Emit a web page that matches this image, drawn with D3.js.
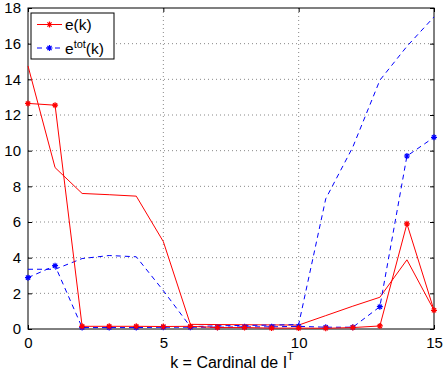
<!DOCTYPE html>
<html><head><meta charset="utf-8">
<script src="https://cdn.jsdelivr.net/npm/d3@7"></script>
<style>body{margin:0;background:#fff}svg{display:block}text{font-family:"Liberation Sans",Arial,sans-serif}</style>
</head><body>
<svg id="c" width="443" height="377"></svg>
<script>
const kValues = [0,1,2,3,4,5,6,7,8,9,10,11,12,13,14,15];
const eK      = [12.65,12.55,0.15,0.15,0.15,0.14,0.15,0.08,0.08,0.05,0.05,0.04,0.08,0.17,5.9,1.05];
const eK2     = [14.75,9.05,7.6,7.53,7.45,4.9,0.26,0.25,0.24,0.23,0.22,0.75,1.28,1.78,3.88,1.05];
const eTot    = [2.88,3.55,0.08,0.08,0.08,0.1,0.1,0.1,0.12,0.12,0.15,0.1,0.1,1.25,9.7,10.75];
const eTot2   = [3.35,3.35,3.95,4.12,4.05,2.15,0.13,0.18,0.2,0.22,0.25,7.3,10.2,13.95,15.85,17.5];
const xTicks = [0,5,10,15];
const yTicks = [0,2,4,6,8,10,12,14,16,18];

const svg = d3.select("#c");
const L=28,R=434,T=8,B=329;
const x = d3.scaleLinear().domain([0,15]).range([L,R]);
const y = d3.scaleLinear().domain([0,18]).range([B,T]);

// grid
const g = svg.append("g");
xTicks.filter(v=>v>0&&v<15).forEach(v=>g.append("line").attr("x1",x(v)).attr("x2",x(v)).attr("y1",T).attr("y2",B)
  .attr("stroke","#888").attr("stroke-dasharray","1,3"));
yTicks.filter(v=>v>0&&v<18).forEach(v=>g.append("line").attr("x1",L).attr("x2",R).attr("y1",y(v)).attr("y2",y(v))
  .attr("stroke","#888").attr("stroke-dasharray","1,3"));

// axes via d3
const tl=4;
svg.append("g").attr("transform",`translate(0,${B})`).call(d3.axisBottom(x).tickValues(xTicks).tickSize(-tl).tickPadding(8).tickFormat(d3.format("d")))
  .call(a=>{a.select(".domain").remove();a.selectAll("text").attr("font-size",15).attr("fill","#000");});
svg.append("g").attr("transform",`translate(0,${T})`).call(d3.axisTop(x).tickValues(xTicks).tickSize(-tl).tickFormat(""))
  .call(a=>a.select(".domain").remove());
svg.append("g").attr("transform",`translate(${L},0)`).call(d3.axisLeft(y).tickValues(yTicks).tickSize(-tl).tickPadding(7).tickFormat(d3.format("d")))
  .call(a=>{a.select(".domain").remove();a.selectAll("text").attr("font-size",15).attr("fill","#000");});
svg.append("g").attr("transform",`translate(${R},0)`).call(d3.axisRight(y).tickValues(yTicks).tickSize(-tl).tickFormat(""))
  .call(a=>a.select(".domain").remove());
svg.append("rect").attr("x",L).attr("y",T).attr("width",R-L).attr("height",B-T).attr("fill","none").attr("stroke","#000");

const line = d3.line().x((d,i)=>x(kValues[i])).y(d=>y(d));
const clip = svg.append("g");
function star(sel,cx,cy,col){
  const r=3;
  sel.append("path").attr("d",`M${cx-r},${cy}H${cx+r}M${cx},${cy-r}V${cy+r}M${cx-r*0.7},${cy-r*0.7}L${cx+r*0.7},${cy+r*0.7}M${cx-r*0.7},${cy+r*0.7}L${cx+r*0.7},${cy-r*0.7}`)
    .attr("stroke",col).attr("stroke-width",1.2).attr("fill","none");
}
function series(data,col,dash,markers){
  clip.append("path").datum(data).attr("d",line).attr("fill","none").attr("stroke",col).attr("stroke-width",1)
    .attr("stroke-dasharray",dash||null);
  if(markers) data.forEach((d,i)=>star(clip,x(kValues[i]),y(d),col));
}
series(eK2,"#ff0000",null,false);
series(eTot2,"#0000ff","5,4",false);
series(eTot,"#0000ff","5,4",true);
series(eK,"#ff0000",null,true);

// legend
const lg=svg.append("g");
lg.append("rect").attr("x",31).attr("y",13).attr("width",83).attr("height",46).attr("fill","#fff").attr("stroke","#000");
lg.append("line").attr("x1",37).attr("x2",62).attr("y1",24.5).attr("y2",24.5).attr("stroke","#ff0000");
star(lg,49.5,24.5,"#ff0000");
lg.append("text").attr("x",65).attr("y",30).attr("font-size",15.5).text("e(k)");
lg.append("line").attr("x1",37).attr("x2",62).attr("y1",48).attr("y2",48).attr("stroke","#0000ff").attr("stroke-dasharray","5,4");
star(lg,49.5,48,"#0000ff");
const t2=lg.append("text").attr("x",65).attr("y",54).attr("font-size",15.5);
t2.append("tspan").text("e");
t2.append("tspan").attr("dy",-6).attr("font-size",11).text("tot");
t2.append("tspan").attr("dy",6).text("(k)");

// x label
const xl=svg.append("text").attr("x",232).attr("y",368).attr("text-anchor","middle").attr("font-size",16);
xl.append("tspan").text("k = Cardinal de I");
xl.append("tspan").attr("dy",-8).attr("font-size",11).text("T");
</script>
</body></html>
